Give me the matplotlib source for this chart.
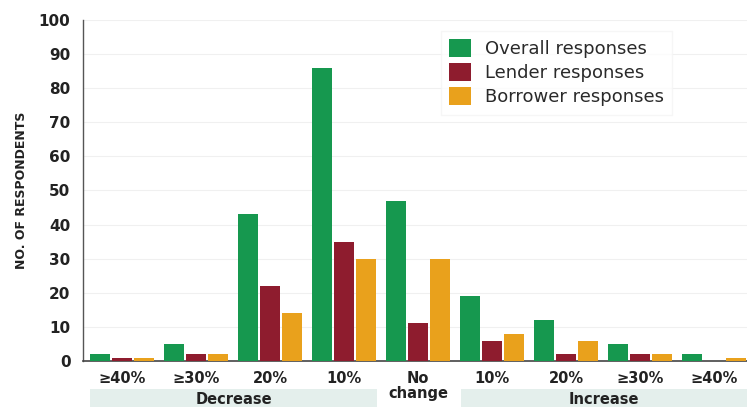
import numpy as np
import matplotlib.pyplot as plt
from matplotlib.transforms import blended_transform_factory
from matplotlib.patches import Rectangle

plt.rcParams['font.family'] = ['DejaVu Sans']

categories = ["\u226540%", "\u226530%", "20%", "10%", "No\nchange",
              "10%", "20%", "\u226530%", "\u226540%"]
overall = [2, 5, 43, 86, 47, 19, 12, 5, 2]
lender = [1, 2, 22, 35, 11, 6, 2, 2, 0]
borrower = [1, 2, 14, 30, 30, 8, 6, 2, 1]
series_names = ["Overall responses", "Lender responses", "Borrower responses"]
colors = ["#16984f", "#8e1c2e", "#e9a11c"]

fig = plt.figure(figsize=(7.47, 4.07), dpi=100)
ax = fig.add_axes([0.111, 0.113, 0.889, 0.838])

x = np.arange(len(categories))
w = 0.28
step = 0.297
for k, (vals, name, c) in enumerate(zip([overall, lender, borrower],
                                         series_names, colors)):
    ax.bar(x + (k - 1) * step, vals, width=w, color=c, label=name, zorder=3)

ax.set_xlim(-0.527, 8.446)
ax.set_ylim(0, 100)
ax.set_yticks(range(0, 101, 10))
ax.set_xticks(x)
ax.set_xticklabels(categories, fontsize=10.5, fontweight="bold", color="#222222",
                   linespacing=1.05)
ax.tick_params(axis="x", length=0, pad=7)
ax.tick_params(axis="y", length=0, pad=9, labelsize=11, labelcolor="#222222")
for lab in ax.get_yticklabels():
    lab.set_fontweight("bold")
ax.grid(axis="y", color="#f0f0f0", lw=0.8, zorder=0)
for side in ("top", "right"):
    ax.spines[side].set_visible(False)
ax.spines["left"].set_color("#555555")
ax.spines["bottom"].set_color("#444444")
ax.spines["left"].set_linewidth(1.0)
ax.spines["bottom"].set_linewidth(1.2)

ax.set_ylabel("NO. OF RESPONDENTS", fontsize=9, fontweight="bold",
              color="#222222", labelpad=8)

# shaded group bands under the tick labels
trans = blended_transform_factory(ax.transData, ax.transAxes)
bands = [("Decrease", -0.43, 3.45), ("Increase", 4.58, 8.446)]
for text, x0, x1 in bands:
    ax.add_patch(Rectangle((x0, -0.14), x1 - x0, 0.058, transform=trans,
                           facecolor="#e4efec", edgecolor="none",
                           clip_on=False, zorder=1))
    ax.text((x0 + x1) / 2, -0.113, text, transform=trans, ha="center",
            va="center", fontsize=10.5, fontweight="bold", color="#222222",
            zorder=2)

leg = ax.legend(loc="upper left", bbox_to_anchor=(432 / 747, 1 - 22 / 407),
                bbox_transform=fig.transFigure, fontsize=13,
                frameon=True, fancybox=False, edgecolor="#f4f4f4",
                handlelength=1.2, handleheight=1.15, handletextpad=0.8,
                labelspacing=0.28, borderpad=0.45)
for t in leg.get_texts():
    t.set_color("#2a2a2a")

fig.savefig("out.png", dpi=100)
